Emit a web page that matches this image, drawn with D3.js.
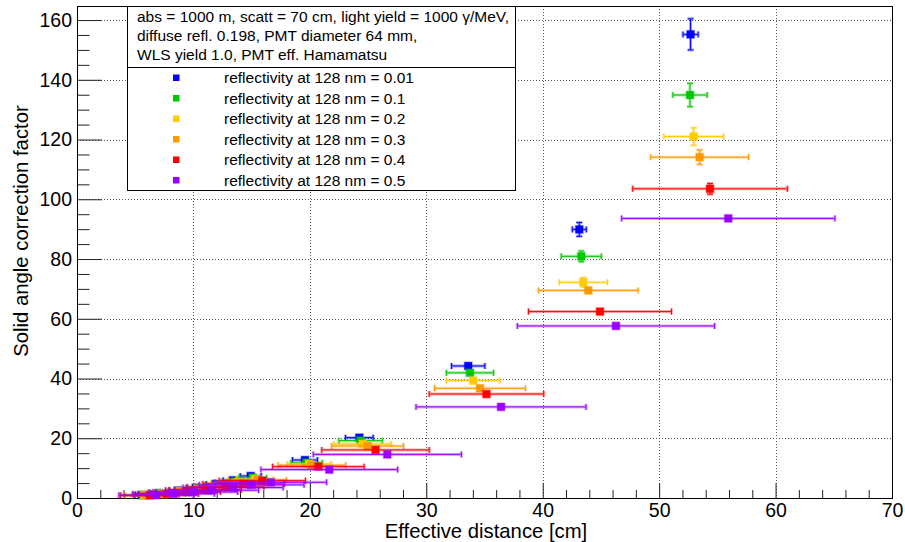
<!DOCTYPE html>
<html>
<head>
<meta charset="utf-8">
<script src="https://cdn.jsdelivr.net/npm/d3@7"></script>
<style>
  body { margin: 0; background: #fff; }
  svg { font-family: "Liberation Sans", Arial, Helvetica, sans-serif; }
</style>
</head>
<body>
<svg id="chart" width="905" height="542"></svg>
<script>
// reflectivity settings, one series each
const reflectivity = ['0.01', '0.1', '0.2', '0.3', '0.4', '0.5'];
const seriesColors = ['#0000ff', '#00c800', '#ffcc00', '#ff9900', '#ff0000', '#9900ff'];

// effective distance [cm]
const xValues = [
  [52.70, 43.14, 33.60, 24.25, 19.58, 14.92, 13.40, 11.90, 10.20, 8.65, 7.00, 5.55],
  [52.65, 43.31, 33.75, 24.36, 19.72, 15.09, 13.54, 12.03, 10.33, 8.77, 7.12, 5.66],
  [52.97, 43.49, 34.04, 24.53, 19.95, 15.30, 13.72, 12.20, 10.48, 8.92, 7.26, 5.80],
  [53.48, 43.92, 34.61, 24.96, 20.18, 15.49, 13.90, 12.37, 10.63, 9.07, 7.40, 5.94],
  [54.37, 44.92, 35.17, 25.64, 20.73, 15.92, 14.31, 12.76, 11.00, 9.42, 7.74, 6.26],
  [55.94, 46.29, 36.42, 26.65, 21.67, 16.64, 15.00, 13.40, 11.60, 10.00, 8.30, 6.80]
];
// solid angle correction factor
const yValues = [
  [155.2, 89.9, 44.2, 20.2, 12.7, 7.36, 5.94, 4.69, 3.44, 2.48, 1.62, 1.02],
  [134.9, 80.9, 41.9, 19.2, 11.8, 6.80, 5.48, 4.33, 3.19, 2.30, 1.52, 0.96],
  [121.0, 72.2, 39.3, 18.1, 11.4, 6.36, 5.12, 4.05, 2.99, 2.16, 1.43, 0.91],
  [114.1, 69.5, 36.7, 17.4, 11.0, 6.03, 4.85, 3.84, 2.84, 2.07, 1.37, 0.89],
  [103.5, 62.4, 34.8, 16.1, 10.5, 5.80, 4.69, 3.73, 2.77, 2.03, 1.37, 0.90],
  [93.6, 57.6, 30.5, 14.6, 9.5, 5.25, 4.40, 3.50, 2.60, 2.00, 1.40, 0.95]
];
const xErrors = [
  [0.65, 0.60, 1.43, 1.19, 1.07, 0.90, 0.85, 0.80, 0.75, 0.70, 0.65, 0.60],
  [1.47, 1.72, 2.02, 1.86, 1.35, 1.20, 1.10, 1.05, 1.00, 0.95, 0.90, 0.85],
  [2.56, 2.06, 2.29, 2.46, 1.88, 1.60, 1.50, 1.40, 1.35, 1.30, 1.20, 1.10],
  [4.20, 4.27, 3.90, 3.09, 2.90, 2.50, 2.40, 2.30, 2.10, 2.00, 1.90, 1.80],
  [6.64, 6.14, 4.92, 4.61, 3.93, 3.70, 3.50, 3.30, 3.10, 2.90, 2.70, 2.50],
  [9.16, 8.47, 7.30, 6.36, 5.87, 4.80, 4.50, 4.30, 4.00, 3.80, 3.50, 3.20]
];
const yErrors = [
  [5.2, 2.3, 1.0, 0.7, 0.5, 0.4, 0.35, 0.3, 0.25, 0.2, 0.15, 0.1],
  [3.9, 1.8, 0.9, 0.6, 0.45, 0.35, 0.3, 0.25, 0.2, 0.15, 0.1, 0.1],
  [2.9, 1.5, 0.8, 0.55, 0.4, 0.3, 0.25, 0.2, 0.15, 0.1, 0.1, 0.1],
  [2.4, 1.2, 0.7, 0.5, 0.35, 0.3, 0.25, 0.2, 0.15, 0.1, 0.1, 0.1],
  [1.8, 1.0, 0.6, 0.45, 0.3, 0.25, 0.2, 0.15, 0.1, 0.1, 0.1, 0.1],
  [1.0, 0.8, 0.6, 0.4, 0.3, 0.25, 0.2, 0.15, 0.1, 0.1, 0.1, 0.1]
];

const xMajor = [0, 10, 20, 30, 40, 50, 60, 70];
const yMajor = [0, 20, 40, 60, 80, 100, 120, 140, 160];
const headerLines = [
  'abs = 1000 m, scatt = 70 cm, light yield = 1000 \u03b3/MeV,',
  'diffuse refl. 0.198, PMT diameter 64 mm,',
  'WLS yield 1.0, PMT eff. Hamamatsu'
];

const frame = { left: 77, top: 6, right: 892, bottom: 498 };

const svg = d3.select('#chart');

const x = d3.scaleLinear().domain([0, 70]).range([frame.left, frame.right]);
const y = d3.scaleLinear().domain([0, 164.7]).range([frame.bottom, frame.top]);

// grid
const grid = svg.append('g')
  .attr('stroke', '#555')
  .attr('stroke-width', 1)
  .attr('stroke-dasharray', '1,2');

grid.selectAll('.gx')
  .data(xMajor.slice(1, -1))
  .enter()
  .append('line')
  .attr('x1', d => Math.round(x(d)) + 0.5)
  .attr('x2', d => Math.round(x(d)) + 0.5)
  .attr('y1', frame.top)
  .attr('y2', frame.bottom);

grid.selectAll('.gy')
  .data(yMajor.slice(1))
  .enter()
  .append('line')
  .attr('y1', d => Math.round(y(d)) + 0.5)
  .attr('y2', d => Math.round(y(d)) + 0.5)
  .attr('x1', frame.left)
  .attr('x2', frame.right);

// axes
const xMinor = d3.range(0, 70.01, 2).filter(v => v % 10 !== 0);
const yMinor = d3.range(0, 164, 5).filter(v => v % 20 !== 0);

svg.append('g')
  .attr('transform', `translate(0,${frame.bottom})`)
  .call(d3.axisBottom(x).tickValues(xMajor).tickSize(-15).tickPadding(5).tickFormat(d3.format('d')));
svg.append('g')
  .attr('transform', `translate(0,${frame.bottom})`)
  .call(d3.axisBottom(x).tickValues(xMinor).tickSize(-8).tickFormat(''));

svg.append('g')
  .attr('transform', `translate(${frame.left},0)`)
  .call(d3.axisLeft(y).tickValues(yMajor).tickSize(-25).tickPadding(5).tickFormat(d3.format('d')));
svg.append('g')
  .attr('transform', `translate(${frame.left},0)`)
  .call(d3.axisLeft(y).tickValues(yMinor).tickSize(-12.5).tickFormat(''));

svg.selectAll('.domain').remove();
svg.selectAll('.tick line').attr('stroke', '#222');
svg.selectAll('.tick text')
  .attr('font-size', 19.5)
  .attr('fill', '#000')
  .attr('font-family', '"Liberation Sans", Arial, Helvetica, sans-serif');

// frame
svg.append('rect')
  .attr('x', frame.left + 0.5)
  .attr('y', frame.top + 0.5)
  .attr('width', frame.right - frame.left)
  .attr('height', frame.bottom - frame.top)
  .attr('fill', 'none')
  .attr('stroke', '#000')
  .attr('stroke-width', 1);

// axis titles
svg.append('text')
  .attr('x', 486)
  .attr('y', 538)
  .attr('text-anchor', 'middle')
  .attr('font-size', 20.3)
  .text('Effective distance [cm]');

svg.append('text')
  .attr('transform', 'translate(28,231) rotate(-90)')
  .attr('text-anchor', 'middle')
  .attr('font-size', 20.3)
  .text('Solid angle correction factor');

// data
const capX = 3, capY = 3, half = 3.8;

reflectivity.forEach((r, k) => {
  const color = seriesColors[k];
  const pts = xValues[k].map((xv, i) => ({
    x: xv, y: yValues[k][i], ex: xErrors[k][i], ey: yErrors[k][i]
  }));

  const g = svg.append('g').attr('class', 'series');

  const bars = g.selectAll('.err')
    .data(pts)
    .enter()
    .append('g');

  // soft halo under each bar, then the core line
  [{ w: 3, o: 0.35 }, { w: 1, o: 1 }].forEach(s => {
    bars.append('path')
      .attr('fill', 'none')
      .attr('stroke', color)
      .attr('stroke-width', s.w)
      .attr('stroke-opacity', s.o)
      .attr('d', d => {
        const cx = x(d.x), cy = y(d.y);
        const x0 = x(d.x - d.ex), x1 = x(d.x + d.ex);
        const y0 = y(d.y - d.ey), y1 = y(d.y + d.ey);
        let p = `M${x0},${cy}H${x1}`;
        p += `M${x0},${cy - capX}V${cy + capX}M${x1},${cy - capX}V${cy + capX}`;
        if (cy - y1 > half) {
          p += `M${cx},${y0}V${y1}`;
          p += `M${cx - capY},${y0}H${cx + capY}M${cx - capY},${y1}H${cx + capY}`;
        }
        return p;
      });
  });

  g.selectAll('.pt')
    .data(pts)
    .enter()
    .append('rect')
    .attr('x', d => x(d.x) - half)
    .attr('y', d => y(d.y) - half)
    .attr('width', half * 2)
    .attr('height', half * 2)
    .attr('fill', color)
    .attr('stroke', color)
    .attr('stroke-opacity', 0.35)
    .attr('stroke-width', 1.5);
});

// legend
const legend = svg.append('g');
legend.append('rect')
  .attr('x', 127.5)
  .attr('y', 6.5)
  .attr('width', 388)
  .attr('height', 184)
  .attr('fill', '#fff')
  .attr('stroke', '#000')
  .attr('stroke-width', 1);
legend.append('line')
  .attr('x1', 127.5).attr('x2', 515.5)
  .attr('y1', 67.5).attr('y2', 67.5)
  .attr('stroke', '#000');

legend.selectAll('.hdr')
  .data(headerLines)
  .enter()
  .append('text')
  .attr('x', 137)
  .attr('y', (d, i) => 22 + i * 19)
  .attr('font-size', 15.5)
  .text(d => d);

const rows = legend.selectAll('.row')
  .data(reflectivity)
  .enter()
  .append('g')
  .attr('transform', (d, i) => `translate(0,${77.5 + i * 20.5})`);

rows.append('rect')
  .attr('x', 173)
  .attr('y', -3)
  .attr('width', 6.5)
  .attr('height', 6.5)
  .attr('fill', (d, i) => seriesColors[i]);

rows.append('text')
  .attr('x', 224)
  .attr('y', 5.5)
  .attr('font-size', 15.5)
  .text(d => `reflectivity at 128 nm = ${d}`);
</script>
</body>
</html>
